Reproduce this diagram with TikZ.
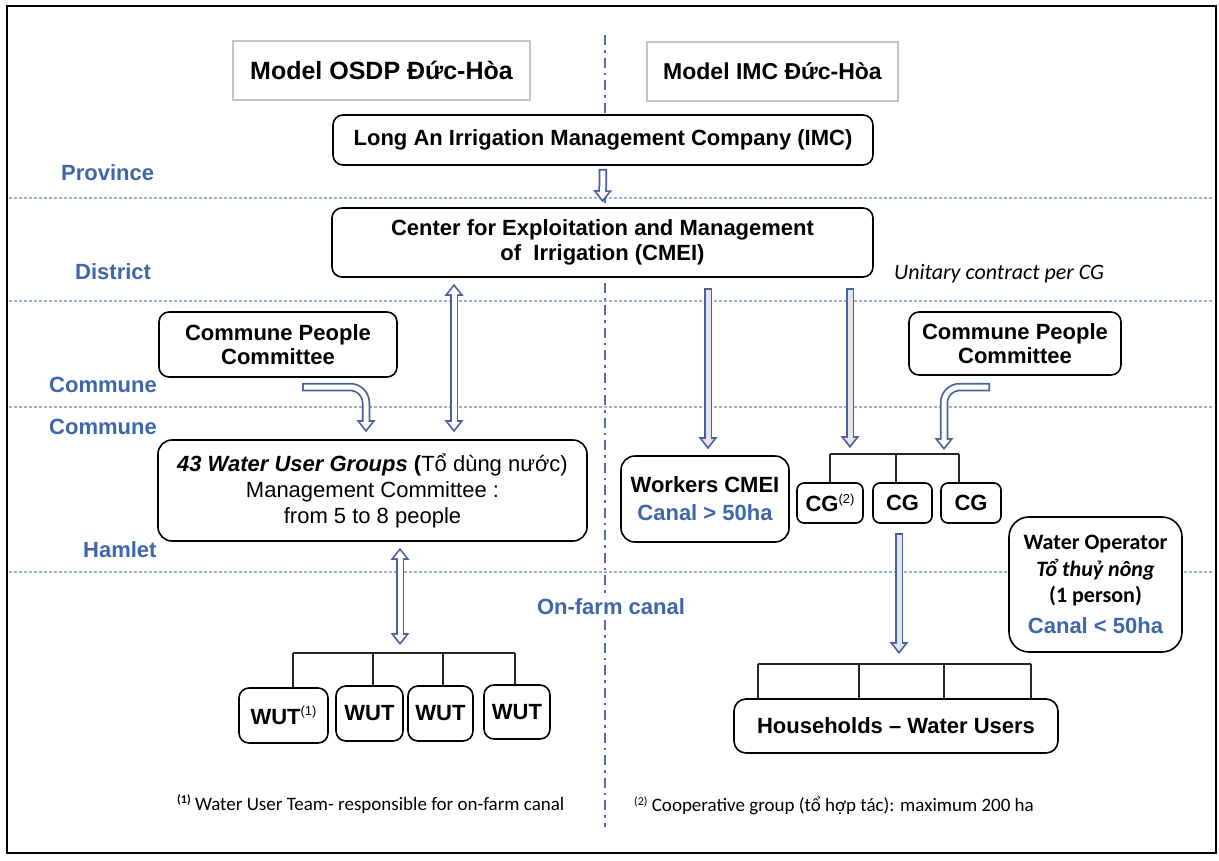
\documentclass[tikz,border=0pt]{standalone}
\usepackage{fontspec}
\setmainfont{Liberation Sans}
\newfontfamily\cali{Carlito}
\usetikzlibrary{arrows.meta}
\definecolor{lblue}{HTML}{3E66AC}
\definecolor{ablue}{HTML}{4A5F9E}
\definecolor{afill}{HTML}{E4E4EA}
\definecolor{dotc}{HTML}{A2AED2}
\definecolor{vlinec}{HTML}{4F6DAE}
\definecolor{greyb}{HTML}{C4C4C4}
\tikzset{
  oT/.tip={Triangle[length=12pt,width=19pt,line width=0pt]},
  iT/.tip={Triangle[length=7.4pt,width=11.8pt,line width=0pt]},
  hout/.style={line width=8.5pt, draw=ablue},
  hin/.style={line width=5pt, draw=#1},
  box/.style={draw, line width=1.6pt, rounded corners=10pt, fill=white, align=center,
    font=\bfseries\fontsize{22}{25}\selectfont, inner sep=0pt},
  mbox/.style={draw=greyb, line width=1.6pt, fill=white, inner sep=0pt},
  lvl/.style={text=lblue, font=\bfseries\fontsize{22}{26}\selectfont, inner sep=0pt},
  dotl/.style={draw=dotc, line width=1.2pt, dash pattern=on 3pt off 2pt},
  brk/.style={line width=2pt, draw=black!85},
  foot/.style={font=\cali\fontsize{19}{19}\selectfont, inner sep=0pt, anchor=west},
}
\newcommand\sups[1]{\raisebox{0.75ex}{\fontsize{13}{13}\selectfont\mdseries #1}}
\newcommand\hdown[4]{%
  \draw[hout, -oT, shorten <=#2pt, shorten >=#3pt] #4;
  \draw[hin=#1, -iT, shorten <=#2pt+1.75pt, shorten >=#3pt+2.8pt] #4;}
\newcommand\hboth[4]{%
  \draw[hout, oT-oT, shorten <=#2pt, shorten >=#3pt] #4;
  \draw[hin=#1, iT-iT, shorten <=#2pt+2.8pt, shorten >=#3pt+2.8pt] #4;}
\begin{document}
\begin{tikzpicture}[x=1pt,y=-1pt]
\useasboundingbox (0,0) rectangle (1219,860);
\draw[line width=1.3pt] (7,6) rectangle (1216,853);
% level separators
\foreach \yy in {198,301,407,572} \draw[dotl] (9,\yy) -- (1214,\yy);
\draw[vlinec, line width=2pt, dash pattern=on 10pt off 5pt on 2.5pt off 5pt] (605,35) -- (605,827);
% titles
\node[mbox, minimum width=297pt, minimum height=59pt, font=\bfseries\fontsize{25}{25}\selectfont] (osdp) at (381.5,70.5) {Model OSDP Đức-Hòa};
\node[mbox, minimum width=251pt, minimum height=59pt, font=\bfseries\fontsize{23}{23}\selectfont] (mimc) at (772.5,71.5) {Model IMC Đức-Hòa};
% level labels
\node[lvl, anchor=west] (prov) at (61,173) {Province};
\node[lvl, anchor=west] (dist) at (75,272) {District};
\node[lvl, anchor=west] (comm1) at (49,385) {Commune};
\node[lvl, anchor=west] (comm2) at (49,427) {Commune};
\node[lvl, anchor=west] (haml) at (83,550) {Hamlet};
\node[lvl, fill=white, inner sep=2pt] (onfarm) at (611,607) {On-farm canal};
\node[anchor=west, inner sep=0pt, font=\cali\itshape\fontsize{22}{22}\selectfont] (unit) at (894,274) {Unitary contract per CG};
% boxes
\node[box, minimum width=540pt, minimum height=50pt] (longan) at (603,140) {Long An Irrigation Management Company (IMC)};
\node[box, minimum width=541pt, minimum height=69pt] (cmei) at (602.5,242.5) {Center for Exploitation and Management\\of\ \ Irrigation (CMEI)};
\node[box, minimum width=238pt, minimum height=65pt, font=\bfseries\fontsize{22}{24}\selectfont] (cpcl) at (278,344.5) {Commune People\\Committee};
\node[box, minimum width=212pt, minimum height=63pt, font=\bfseries\fontsize{22}{24}\selectfont] (cpcr) at (1015,343.5) {Commune People\\Committee};
\node[box, minimum width=429pt, minimum height=101pt, rounded corners=14pt, font=\fontsize{22}{26}\selectfont] (wug) at (372.5,490.5) {\textbf{\textit{43 Water User Groups} (}Tổ dùng nước)\\Management Committee :\\from 5 to 8 people};
\node[box, minimum width=168pt, minimum height=86pt, rounded corners=14pt, font=\bfseries\fontsize{22}{28}\selectfont] (workers) at (705,499) {Workers CMEI\\\textcolor{lblue}{Canal > 50ha}};
\node[box, minimum width=66pt, minimum height=40pt, rounded corners=7pt] (cg1) at (830,503) {CG\sups{(2)}};
\node[box, minimum width=59pt, minimum height=40pt, rounded corners=7pt] (cg2) at (902.5,503) {CG};
\node[box, minimum width=60pt, minimum height=40pt, rounded corners=7pt] (cg3) at (971,503) {CG};
\node[box, minimum width=173pt, minimum height=135pt, rounded corners=20pt, font=\cali\bfseries\fontsize{22}{26.5}\selectfont] (wop) at (1095.5,584.5) {Water Operator\\\textit{Tổ thuỷ nông}\\(1 person)\\[4pt]{\normalfont\bfseries\color{lblue}Canal < 50ha}};
\node[box, minimum width=89pt, minimum height=55pt] (wut1) at (283.5,715.5) {WUT\sups{(1)}};
\node[box, minimum width=67pt, minimum height=55pt] (wut2) at (369.5,713.5) {WUT};
\node[box, minimum width=65pt, minimum height=55pt] (wut3) at (440.5,713.5) {WUT};
\node[box, minimum width=66pt, minimum height=54pt] (wut4) at (517,712) {WUT};
\node[box, minimum width=324pt, minimum height=54pt, rounded corners=12pt] (hh) at (896,726) {Households – Water Users};
% footnotes
\node[foot] (fn1) at (177,804) {\raisebox{0.7ex}{\fontsize{12}{12}\selectfont\bfseries(1)} Water User Team- responsible for on-farm canal};
\node[foot] (fn2) at (634,806) {\raisebox{0.7ex}{\fontsize{12}{12}\selectfont(2)} Cooperative group (tổ hợp tác): maximum 200 ha};
% bracket coordinates
\coordinate (w1) at (293,653); \coordinate (w2) at (373,653);
\coordinate (w3) at (443,653); \coordinate (w4) at (515,653);
\coordinate (g1) at (830,454); \coordinate (g2) at (896,454); \coordinate (g3) at (959,454);
\coordinate (h1) at (758,664); \coordinate (h2) at (859,664);
\coordinate (h3) at (944,664); \coordinate (h4) at (1031,664);
\draw[brk] (w1) -- (w4);
\draw[brk] (w1) -- (w1 |- wut1.north);
\draw[brk] (w2) -- (w2 |- wut2.north);
\draw[brk] (w3) -- (w3 |- wut3.north);
\draw[brk] (w4) -- (w4 |- wut4.north);
\draw[brk] (g1) -- (g3);
\draw[brk] (g1) -- (g1 |- cg1.north);
\draw[brk] (g2) -- (g2 |- cg2.north);
\draw[brk] (g3) -- (g3 |- cg3.north);
\draw[brk] (h1) -- (h4);
\draw[brk] (h1) -- (h1 |- hh.north);
\draw[brk] (h2) -- (h2 |- hh.north);
\draw[brk] (h3) -- (h3 |- hh.north);
\draw[brk] (h4) -- (h4 |- hh.north);
% arrow coordinates
\coordinate (xa) at (454,0); \coordinate (xb) at (708,0);
\coordinate (xc) at (850,0); \coordinate (xd) at (366,0);
\coordinate (xe) at (899,0); \coordinate (xf) at (400,0);
\coordinate (c5) at (302,387); \coordinate (c6) at (990,387);
\coordinate (k6) at (944,454);
% arrows
\hdown{white}{3}{5}{(longan.south) -- (cmei.north)}
\hboth{white}{6}{7}{(cmei.south -| xa) -- (wug.north -| xa)}
\hdown{afill}{10}{6}{(cmei.south -| xb) -- (workers.north -| xb)}
\hdown{afill}{10}{6}{(cmei.south -| xc) -- (g1 -| xc)}
\hdown{white}{0}{7}{(c5) [rounded corners=16pt] -- (c5 -| xd) -- (wug.north -| xd)}
\hdown{white}{0}{4}{(c6) [rounded corners=16pt] -- (c6 -| k6) -- (k6)}
\hdown{afill}{9}{10}{(cg2.south -| xe) -- (h1 -| xe)}
\hboth{white}{6}{8}{(wug.south -| xf) -- (w1 -| xf)}
\end{tikzpicture}
\end{document}
